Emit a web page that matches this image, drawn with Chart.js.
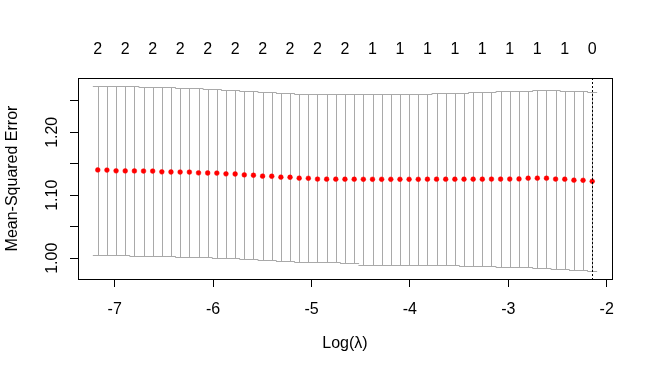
<!DOCTYPE html>
<html lang="en">

<head>
    <meta charset="UTF-8">
    <title>cv.glmnet</title>
    <style>
        body { margin: 0; background: #ffffff; }
    </style>
</head>

<body>
    <canvas id="grafica" width="653" height="377"></canvas>
</body>
<script src="https://cdn.jsdelivr.net/npm/chart.js"></script>
<script>
    // log(lambda) of each fit, left to right
    const logLambda = [
        -7.172, -7.079, -6.986, -6.893, -6.800, -6.707, -6.614, -6.521, -6.428, -6.335,
        -6.241, -6.148, -6.055, -5.962, -5.869, -5.776, -5.683, -5.590, -5.497, -5.404,
        -5.311, -5.218, -5.125, -5.032, -4.939, -4.846, -4.753, -4.660, -4.566, -4.473,
        -4.380, -4.287, -4.194, -4.101, -4.008, -3.915, -3.822, -3.729, -3.636, -3.543,
        -3.450, -3.357, -3.264, -3.171, -3.078, -2.985, -2.891, -2.798, -2.705, -2.612,
        -2.519, -2.426, -2.333, -2.240, -2.147
    ];
    // cross validated mean squared error
    const mse = [
        1.1402, 1.1400, 1.1388, 1.1387, 1.1386, 1.1385, 1.1384, 1.1372, 1.1370, 1.1369,
        1.1368, 1.1356, 1.1354, 1.1352, 1.1340, 1.1338, 1.1324, 1.1318, 1.1304, 1.1302,
        1.1288, 1.1286, 1.1272, 1.1270, 1.1257, 1.1256, 1.1256, 1.1255, 1.1255, 1.1254,
        1.1254, 1.1254, 1.1254, 1.1254, 1.1254, 1.1254, 1.1255, 1.1255, 1.1255, 1.1255,
        1.1256, 1.1256, 1.1256, 1.1257, 1.1257, 1.1258, 1.1259, 1.1271, 1.1272, 1.1271,
        1.1257, 1.1255, 1.1240, 1.1238, 1.1222
    ];
    // mse + 1 sd
    const mseUpper = [
        1.2730, 1.2730, 1.2730, 1.2730, 1.2730, 1.2714, 1.2714, 1.2714, 1.2714, 1.2698,
        1.2698, 1.2698, 1.2683, 1.2683, 1.2667, 1.2667, 1.2651, 1.2651, 1.2635, 1.2635,
        1.2619, 1.2619, 1.2603, 1.2603, 1.2603, 1.2603, 1.2603, 1.2603, 1.2603, 1.2603,
        1.2603, 1.2603, 1.2603, 1.2603, 1.2603, 1.2603, 1.2603, 1.2619, 1.2619, 1.2619,
        1.2619, 1.2635, 1.2635, 1.2635, 1.2651, 1.2651, 1.2651, 1.2651, 1.2667, 1.2667,
        1.2667, 1.2651, 1.2651, 1.2651, 1.2643
    ];
    // mse - 1 sd
    const mseLower = [
        1.0048, 1.0048, 1.0048, 1.0048, 1.0032, 1.0032, 1.0032, 1.0032, 1.0032, 1.0016,
        1.0016, 1.0016, 1.0016, 1.0000, 1.0000, 1.0000, 0.9984, 0.9984, 0.9968, 0.9968,
        0.9952, 0.9952, 0.9937, 0.9937, 0.9937, 0.9937, 0.9937, 0.9921, 0.9921, 0.9900,
        0.9900, 0.9900, 0.9900, 0.9900, 0.9900, 0.9900, 0.9900, 0.9900, 0.9900, 0.9900,
        0.9878, 0.9878, 0.9878, 0.9878, 0.9862, 0.9862, 0.9862, 0.9862, 0.9846, 0.9846,
        0.9830, 0.9830, 0.9814, 0.9814, 0.9798
    ];
    // number of nonzero coefficients shown on top (every 3rd fit)
    const topLabels = ['2', '2', '2', '2', '2', '2', '2', '2', '2', '2',
                       '1', '1', '1', '1', '1', '1', '1', '1', '0'];
    const xTicks = [-7, -6, -5, -4, -3, -2];
    const yTicks = [1.00, 1.05, 1.10, 1.15, 1.20, 1.25];
    const yTickLabels = ['1.00', '', '1.10', '', '1.20', ''];

    const fuente = '16px "Liberation Sans", Arial, sans-serif';
    const xMin = -7.373, xMax = -1.946;
    const yMin = 0.9671, yMax = 1.2862;
    const capWidth = 0.05; // half width of the error bar caps in log(lambda)

    const topPos = logLambda.filter((v, i) => i % 3 === 0);
    const iMin = mse.indexOf(Math.min(...mse));

    // grey error bars, drawn before the red points
    const barras = {
        id: 'barras',
        beforeDatasetsDraw(chart) {
            const ctx = chart.ctx;
            const x = chart.scales.x, y = chart.scales.y;
            ctx.save();
            ctx.strokeStyle = '#A9A9A9';
            ctx.lineWidth = 1;
            ctx.beginPath();
            for (let i = 0; i < logLambda.length; i++) {
                const px = Math.round(x.getPixelForValue(logLambda[i])) + 0.5;
                const pl = x.getPixelForValue(logLambda[i] - capWidth);
                const pr = x.getPixelForValue(logLambda[i] + capWidth);
                const pu = Math.round(y.getPixelForValue(mseUpper[i])) + 0.5;
                const pd = Math.round(y.getPixelForValue(mseLower[i])) + 0.5;
                ctx.moveTo(px, pu); ctx.lineTo(px, pd);
                ctx.moveTo(pl, pu); ctx.lineTo(pr, pu);
                ctx.moveTo(pl, pd); ctx.lineTo(pr, pd);
            }
            ctx.stroke();
            ctx.restore();
        }
    };

    // box, dotted lambda.min line, rotated y labels and axis titles
    const extras = {
        id: 'extras',
        afterDraw(chart) {
            const ctx = chart.ctx;
            const a = chart.chartArea;
            const x = chart.scales.x, y = chart.scales.y;
            ctx.save();
            ctx.strokeStyle = '#000000';
            ctx.lineWidth = 1;
            ctx.strokeRect(Math.round(a.left) + 0.5, Math.round(a.top) + 0.5,
                Math.round(a.right - a.left), Math.round(a.bottom - a.top));

            const vx = Math.round(x.getPixelForValue(logLambda[iMin])) + 0.5;
            ctx.setLineDash([2, 2]);
            ctx.beginPath();
            ctx.moveTo(vx, a.top);
            ctx.lineTo(vx, a.bottom);
            ctx.stroke();
            ctx.setLineDash([]);

            ctx.fillStyle = '#000000';
            ctx.font = fuente;
            ctx.textAlign = 'center';
            ctx.textBaseline = 'middle';
            for (let i = 0; i < yTicks.length; i++) {
                if (!yTickLabels[i]) continue;
                ctx.save();
                ctx.translate(53, y.getPixelForValue(yTicks[i]));
                ctx.rotate(-Math.PI / 2);
                ctx.fillText(yTickLabels[i], 0, 0);
                ctx.restore();
            }
            ctx.save();
            ctx.translate(13, (a.top + a.bottom) / 2);
            ctx.rotate(-Math.PI / 2);
            ctx.fillText('Mean-Squared Error', 0, 0);
            ctx.restore();

            ctx.fillText('Log(\u03bb)', (a.left + a.right) / 2, 344);
            ctx.restore();
        }
    };

    const ctx = document.getElementById('grafica').getContext('2d');
    const myChart = new Chart(ctx, {
        type: 'scatter',
        data: {
            datasets: [{
                data: logLambda.map((v, i) => ({ x: v, y: mse[i] })),
                pointRadius: 2.4,
                pointBackgroundColor: '#FF0000',
                pointBorderColor: '#FF0000',
                pointBorderWidth: 0.5
            }]
        },
        plugins: [barras, extras],
        options: {
            responsive: false,
            animation: false,
            devicePixelRatio: 1,
            layout: { padding: { left: 0, right: 41, top: 0, bottom: 0 } },
            plugins: {
                legend: { display: false },
                tooltip: { enabled: false }
            },
            scales: {
                x: {
                    type: 'linear',
                    position: 'bottom',
                    min: xMin,
                    max: xMax,
                    afterBuildTicks: s => { s.ticks = xTicks.map(v => ({ value: v })); },
                    afterFit: s => { s.height = 98; },
                    ticks: {
                        font: { family: '"Liberation Sans", Arial, sans-serif', size: 16 },
                        color: '#000000',
                        padding: 13,
                        maxRotation: 0,
                        autoSkip: false,
                        callback: v => String(v)
                    },
                    grid: { drawOnChartArea: false, tickLength: 8, color: '#000000' },
                    border: { display: false }
                },
                xTop: {
                    type: 'linear',
                    position: 'top',
                    min: xMin,
                    max: xMax,
                    afterBuildTicks: s => { s.ticks = topPos.map(v => ({ value: v })); },
                    afterFit: s => { s.height = 78; },
                    ticks: {
                        font: { family: '"Liberation Sans", Arial, sans-serif', size: 16 },
                        color: '#000000',
                        padding: 19,
                        maxRotation: 0,
                        autoSkip: false,
                        callback: (v, i) => topLabels[i]
                    },
                    grid: { display: false, drawTicks: false },
                    border: { display: false }
                },
                y: {
                    type: 'linear',
                    position: 'left',
                    min: yMin,
                    max: yMax,
                    afterBuildTicks: s => { s.ticks = yTicks.map(v => ({ value: v })); },
                    afterFit: s => { s.width = 78; },
                    ticks: { display: false },
                    grid: { drawOnChartArea: false, tickLength: 8, color: '#000000' },
                    border: { display: false }
                }
            }
        }
    });
</script>

</html>
